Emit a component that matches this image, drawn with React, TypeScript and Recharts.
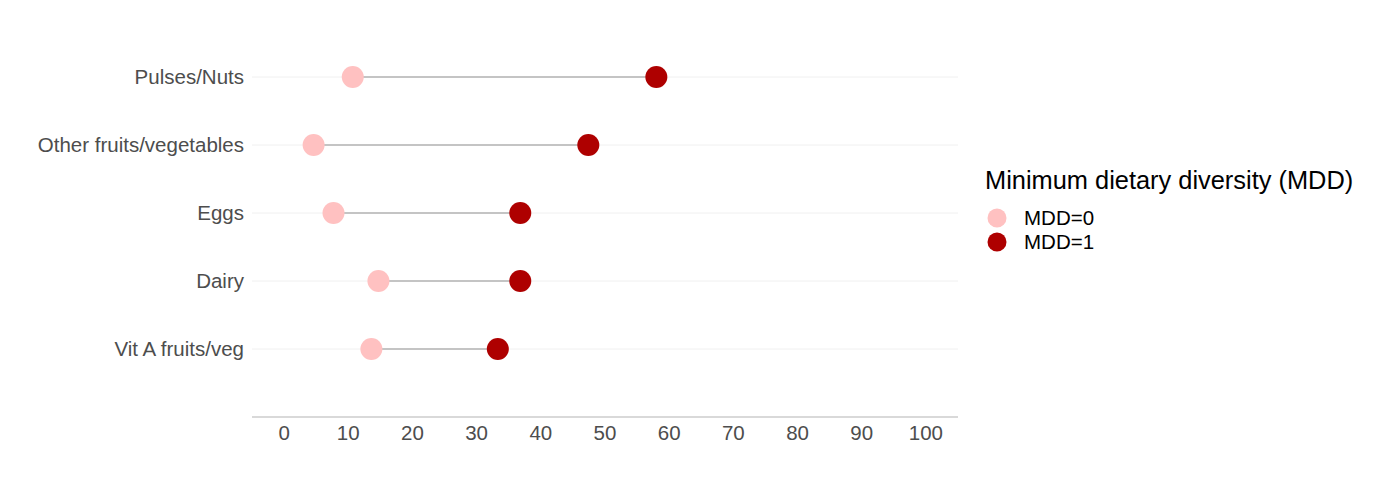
import React from 'react';
import { ScatterChart, Scatter, XAxis, YAxis, ReferenceLine } from 'recharts';

const categories = ['Pulses/Nuts', 'Other fruits/vegetables', 'Eggs', 'Dairy', 'Vit A fruits/veg'];
const mdd0 = [10.7, 4.6, 7.7, 14.7, 13.6];
const mdd1 = [58.0, 47.4, 36.8, 36.8, 33.3];
const xTicks = [0, 10, 20, 30, 40, 50, 60, 70, 80, 90, 100];
const seriesNames = ['MDD=0', 'MDD=1'];
const legendTitle = 'Minimum dietary diversity (MDD)';

const COLOR0 = '#FFC1C1';
const COLOR1 = '#AE0000';
const FONT = '"Liberation Sans", Arial, sans-serif';

// top category gets the highest y position
const yPos = (i: number) => categories.length - i;
const yTicks = categories.map((_, i) => yPos(i));
const data0 = categories.map((c, i) => ({ name: c, x: mdd0[i], y: yPos(i) }));
const data1 = categories.map((c, i) => ({ name: c, x: mdd1[i], y: yPos(i) }));

const dot = (color: string) => (props: any) => (
    <circle cx={props.cx} cy={props.cy} r={11} fill={color} />
);

const LegendBox = () => (
    <div style={{ position: 'absolute', left: 985, top: 165, fontFamily: FONT, color: '#000' }}>
        <div style={{ fontSize: 25.4, lineHeight: '30px', marginBottom: 11, whiteSpace: 'nowrap' }}>{legendTitle}</div>
        {seriesNames.map((s, i) => (
            <div key={s} style={{ display: 'flex', alignItems: 'center', height: 24 }}>
                <svg width={39} height={24}>
                    <circle cx={12} cy={12} r={9.5} fill={i === 0 ? COLOR0 : COLOR1} />
                </svg>
                <span style={{ fontSize: 20.5 }}>{s}</span>
            </div>
        ))}
    </div>
);

export default function App() {
    return (
        <div style={{ position: 'absolute', left: 0, top: 0, width: 1377, height: 480, background: '#fff' }}>
            <ScatterChart width={1377} height={480} margin={{ top: 9, right: 419, bottom: 23, left: 0 }}>
                <XAxis
                    type="number"
                    dataKey="x"
                    domain={[-5, 105]}
                    ticks={xTicks}
                    allowDataOverflow
                    height={40}
                    tickLine={false}
                    axisLine={{ stroke: '#cccccc', strokeWidth: 1.5 }}
                    tick={{ fill: '#4d4d4d', fontSize: 20.5, fontFamily: FONT }}
                />
                <YAxis
                    type="number"
                    dataKey="y"
                    domain={[0, 6]}
                    ticks={yTicks}
                    width={252}
                    tickFormatter={(v: number) => categories[categories.length - v] ?? ''}
                    tickLine={false}
                    axisLine={false}
                    tick={{ fill: '#4d4d4d', fontSize: 20.5, fontFamily: FONT }}
                />
                {/* faint horizontal gridlines at each category */}
                {yTicks.map(v => (
                    <ReferenceLine key={'g' + v} y={v} stroke="#f0f0f0" strokeWidth={1} />
                ))}
                {categories.map((c, i) => (
                    <ReferenceLine
                        key={c}
                        segment={[{ x: mdd0[i], y: yPos(i) }, { x: mdd1[i], y: yPos(i) }]}
                        stroke="#b3b3b3"
                        strokeWidth={1.6}
                    />
                ))}
                <Scatter name={seriesNames[0]} data={data0} shape={dot(COLOR0)} isAnimationActive={false} />
                <Scatter name={seriesNames[1]} data={data1} shape={dot(COLOR1)} isAnimationActive={false} />
            </ScatterChart>
            <LegendBox />
        </div>
    );
}
